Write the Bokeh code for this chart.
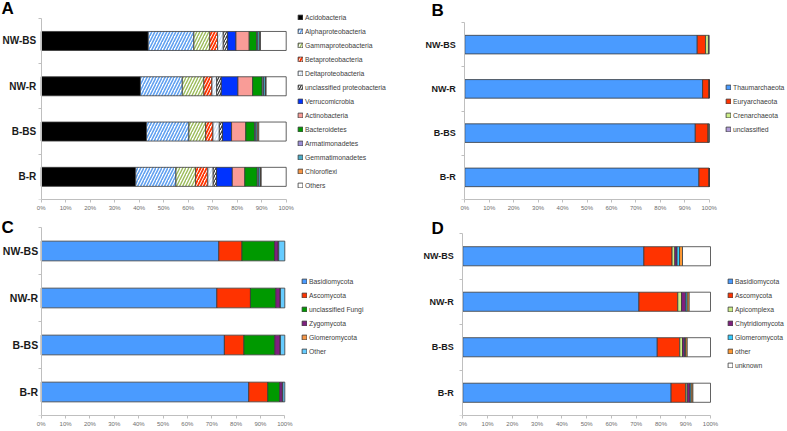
from bokeh.plotting import figure
from bokeh.models import (Range1d, FixedTicker, PrintfTickFormatter, Legend, LegendItem,
                          Label, ColumnDataSource, LinearAxis)
from bokeh.core.properties import value
from bokeh.layouts import row, column
from bokeh.embed import file_html
from bokeh.resources import INLINE

FONT = "Liberation Sans"
samples = ["NW-BS", "NW-R", "B-BS", "B-R"]
x_ticks = [0, 10, 20, 30, 40, 50, 60, 70, 80, 90, 100]

# ---- Panel A: bacteria ----
a_taxa = ["Acidobacteria", "Alphaproteobacteria", "Gammaproteobacteria", "Betaproteobacteria",
          "Deltaproteobacteria", "unclassified proteobacteria", "Verrucomicrobia", "Actinobacteria",
          "Bacteroidetes", "Armatimonadetes", "Gemmatimonadetes", "Chloroflexi", "Others"]
acidobacteria = [43.7, 40.5, 43.0, 38.6]
alphaproteobacteria = [18.6, 17.1, 17.3, 16.4]
gammaproteobacteria = [6.5, 8.8, 6.8, 8.0]
betaproteobacteria = [3.2, 3.3, 3.0, 5.0]
deltaproteobacteria = [2.3, 1.9, 2.6, 2.2]
unclassified_proteobacteria = [1.8, 1.9, 1.3, 1.4]
verrucomicrobia = [3.4, 6.8, 3.7, 6.4]
actinobacteria = [5.4, 6.0, 5.8, 5.1]
bacteroidetes = [3.0, 3.9, 3.6, 5.1]
armatimonadetes = [0.5, 0.6, 0.5, 0.6]
gemmatimonadetes = [0.8, 0.8, 0.6, 0.7]
chloroflexi = [0.3, 0.2, 0.6, 0.3]
others_a = [10.5, 8.2, 11.2, 10.2]

# ---- Panel B: archaea ----
b_taxa = ["Thaumarchaeota", "Euryarchaeota", "Crenarchaeota", "unclassified"]
thaumarchaeota = [95.1, 97.3, 94.3, 95.8]
euryarchaeota = [3.4, 2.7, 5.2, 4.2]
crenarchaeota = [1.2, 0.0, 0.4, 0.0]
unclassified_b = [0.3, 0.0, 0.1, 0.0]

# ---- Panel C: fungi ----
c_taxa = ["Basidiomycota", "Ascomycota", "unclassified Fungi", "Zygomycota", "Glomeromycota", "Other"]
basidiomycota_c = [72.9, 72.1, 75.2, 85.2]
ascomycota_c = [9.5, 13.8, 8.0, 7.8]
unclassified_fungi = [13.4, 10.4, 12.7, 4.9]
zygomycota = [1.5, 1.8, 2.2, 1.1]
glomeromycota_c = [0.2, 0.1, 0.1, 0.2]
other_c = [2.5, 1.8, 1.8, 0.8]

# ---- Panel D: eukaryotes ----
d_taxa = ["Basidiomycota", "Ascomycota", "Apicomplexa", "Chytridiomycota", "Glomeromycota", "other", "unknown"]
basidiomycota_d = [73.1, 71.1, 78.5, 84.1]
ascomycota_d = [11.4, 15.7, 9.1, 5.9]
apicomplexa = [1.1, 1.5, 1.1, 0.6]
chytridiomycota = [0.9, 1.7, 0.8, 1.1]
glomeromycota_d = [1.0, 0.6, 0.4, 0.5]
other_d = [1.2, 0.8, 0.7, 0.7]
unknown_d = [11.3, 8.6, 9.4, 7.1]

BLUE = "#4A9BFF"
RED = "#FF3300"


def style(fill, hatch=None, hcolor=None, hscale=6, hweight=1.5):
    return dict(fill=fill, hatch=hatch, hcolor=hcolor, hscale=hscale, hweight=hweight)


a_styles = [
    style("#000000"),
    style("#FFFFFF", "right_diagonal_line", "#5FA0F0", 6, 1.6),
    style("#FFFFFF", "right_diagonal_line", "#9BBB59", 6, 1.4),
    style("#FFFFFF", "right_diagonal_line", "#FF3300", 6, 1.8),
    style("#FFFFFF", "right_diagonal_line", "#CFE0F2", 6, 1.4),
    style("#FFFFFF", "right_diagonal_line", "#333333", 5, 1.2),
    style("#0033FF"),
    style("#F99C97"),
    style("#009900"),
    style("#9C8FD8"),
    style("#4BACC6"),
    style("#F79646"),
    style("#FFFFFF"),
]
b_styles = [style(BLUE), style(RED), style("#CCEE88"), style("#B19CD9")]
c_styles = [style(BLUE), style(RED), style("#009900"), style("#7F1F7F"), style("#F79646"), style("#66CCFF")]
d_styles = [style(BLUE), style(RED), style("#CCEE88"), style("#7F1F7F"), style("#33CCFF"),
            style("#FF9933"), style("#FFFFFF")]


def make_panel(letter, taxa, series, styles, W, H, bb, x0px, x100px, ytop_px,
               cat_size, cat_off, leg_x, leg_y, let_x, let_y):
    """W,H figure size; bb bottom border; x0px/x100px pixel positions of 0%/100%
    inside the frame; ytop_px pixel of the top of the value axis (from frame top)."""
    n = len(samples)
    fh = H - bb
    sx = (x100px - x0px) / 100.0
    sy = (fh - ytop_px) / n
    p = figure(width=W, height=H, output_backend="svg", toolbar_location=None,
               x_range=Range1d(-x0px / sx, (W - x0px) / sx),
               y_range=Range1d(0, fh / sy),
               x_axis_location=None, y_axis_location=None,
               min_border_left=0, min_border_right=0, min_border_top=0, min_border_bottom=bb)
    p.outline_line_color = None
    p.xgrid.visible = False
    p.ygrid.visible = False
    ypos = [n - i - 0.5 for i in range(n)]
    left = [0.0] * n
    items = []
    for name, vals, st in zip(taxa, series, styles):
        right = [l + v for l, v in zip(left, vals)]
        src = ColumnDataSource(dict(y=ypos, left=left, right=right))
        kw = dict(fill_color=st["fill"], line_color="#3A3A3A", line_width=0.8)
        if st["hatch"]:
            kw.update(hatch_pattern=st["hatch"], hatch_color=st["hcolor"],
                      hatch_scale=st["hscale"], hatch_weight=st["hweight"])
        r = p.hbar(y="y", left="left", right="right", height=0.42, source=src, **kw)
        items.append(LegendItem(label=name, renderers=[r]))
        left = right
    # x axis (below)
    xa = LinearAxis(bounds=(0, 100))
    xa.ticker = FixedTicker(ticks=x_ticks, minor_ticks=[])
    xa.formatter = PrintfTickFormatter(format="%d%%")
    xa.axis_line_color = "#BFBFBF"
    xa.major_tick_line_color = "#BFBFBF"
    xa.major_tick_out = 3
    xa.major_tick_in = 0
    xa.major_label_standoff = 2
    xa.major_label_text_font = FONT
    xa.major_label_text_font_size = "6px"
    xa.major_label_text_color = "#6E6E6E"
    p.add_layout(xa, "below")
    # y axis line drawn at x = 0
    ya = LinearAxis(bounds=(0, n), fixed_location=0)
    ya.ticker = FixedTicker(ticks=[], minor_ticks=[float(k) for k in range(n + 1)])
    ya.axis_line_color = "#BFBFBF"
    ya.major_tick_line_color = None
    ya.major_tick_out = 0
    ya.major_tick_in = 0
    ya.minor_tick_line_color = "#BFBFBF"
    ya.minor_tick_out = 0
    ya.minor_tick_in = 3
    ya.major_label_text_font_size = "0px"
    p.add_layout(ya, "right")
    # category labels
    csrc = ColumnDataSource(dict(x=[0] * n, y=ypos, t=samples))
    p.text(x="x", y="y", text="t", source=csrc, x_offset=-cat_off, text_align="right",
           text_baseline="middle", text_font=value(FONT), text_font_size=cat_size,
           text_font_style="bold", text_color="#1A1A1A")
    leg = Legend(items=items, location=(leg_x, leg_y), orientation="vertical",
                 label_text_font=FONT, label_text_font_size="6.8px", label_text_color="#404040",
                 glyph_width=6, glyph_height=6, label_height=10, label_standoff=2,
                 spacing=4, padding=0, margin=0, border_line_color=None,
                 background_fill_alpha=0)
    p.add_layout(leg)
    p.add_layout(Label(x=let_x, y=fh - let_y, x_units="screen", y_units="screen", text=letter,
                       text_font=FONT, text_font_size="17px", text_font_style="bold",
                       text_baseline="top", text_color="#000000"))
    return p


pA = make_panel("A", a_taxa,
                [acidobacteria, alphaproteobacteria, gammaproteobacteria, betaproteobacteria,
                 deltaproteobacteria, unclassified_proteobacteria, verrucomicrobia, actinobacteria,
                 bacteroidetes, armatimonadetes, gemmatimonadetes, chloroflexi, others_a],
                a_styles, 398, 215, 14, 40.7, 285.7, 18, "10px", 5, 297, 9, 1, 0)
pB = make_panel("B", b_taxa, [thaumarchaeota, euryarchaeota, crenarchaeota, unclassified_b],
                b_styles, 389, 215, 16, 66.3, 310.7, 22, "9px", 9, 327, 65, 33, 0)
pC = make_panel("C", c_taxa,
                [basidiomycota_c, ascomycota_c, unclassified_fungi, zygomycota, glomeromycota_c, other_c],
                c_styles, 398, 216, 16, 40.7, 284.3, 12, "10.5px", 3, 301, 59, 1, 2)
pD = make_panel("D", d_taxa,
                [basidiomycota_d, ascomycota_d, apicomplexa, chytridiomycota, glomeromycota_d,
                 other_d, unknown_d],
                d_styles, 389, 216, 16, 64.3, 312, 18, "9px", 9, 329, 45, 33, 3)

layout = column(row(pA, pB, spacing=0), row(pC, pD, spacing=0), spacing=0)
open("out.html", "w").write(file_html(layout, INLINE))
